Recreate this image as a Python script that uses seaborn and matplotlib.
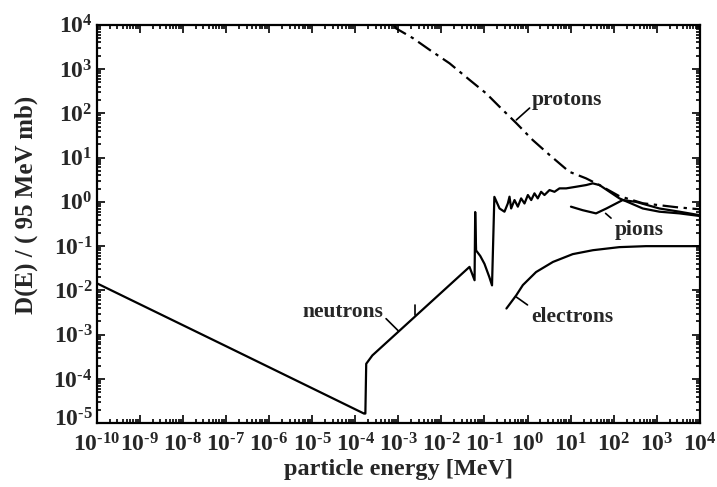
import numpy as np
import pandas as pd
import seaborn as sns
from matplotlib import pyplot as plt
from matplotlib import ticker
from matplotlib.transforms import ScaledTranslation

# values (energy in MeV, D(E) in 95 MeV mb)
neutron_E = [1e-10, 1e-7, 1.6e-4, 1.72e-4, 1.8e-4, 2.5e-4, 0.045, 0.059, 0.061, 0.064,
             0.08, 0.1, 0.13, 0.15, 0.17, 0.224, 0.292, 0.349, 0.382, 0.417, 0.499,
             0.596, 0.711, 0.851, 1.02, 1.22, 1.45, 1.73, 2.07, 2.48, 3.24, 4.23,
             5.52, 7.89, 13.5, 23.0, 32.7, 46.9, 136, 474, 1160, 3370, 1e4]
neutron_D = [0.0145, 5.5e-4, 1.65e-5, 1.65e-5, 2.2e-4, 3.4e-4, 0.034, 0.017, 0.59, 0.08,
             0.06, 0.04, 0.02, 0.013, 1.3, 0.71, 0.60, 0.92, 1.31, 0.71, 1.10,
             0.78, 1.20, 0.92, 1.43, 1.10, 1.56, 1.20, 1.69, 1.43, 1.85, 1.69,
             2.02, 2.02, 2.20, 2.40, 2.62, 2.40, 1.20, 0.71, 0.60, 0.55, 0.48]

proton_E = [7.9e-4, 8.9e-4, 2.19e-3, 5.4e-3, 0.0155, 0.0447, 0.110, 0.224, 0.55,
            1.32, 3.24, 9.3, 22.9, 46.8, 135, 479, 2820, 1e4]
proton_D = [1e4, 8300, 5000, 2700, 1350, 575, 282, 141, 60,
            25, 11.5, 4.8, 3.4, 2.4, 1.35, 0.93, 0.76, 0.68]

pion_E = [10.2, 19, 39, 68, 162, 331, 1150, 3390, 1e4]
pion_D = [0.78, 0.65, 0.55, 0.71, 1.10, 1.0, 0.71, 0.60, 0.50]

electron_E = [0.324, 0.55, 0.78, 1.58, 3.9, 11.2, 33, 135, 562, 1e4]
electron_D = [0.0039, 0.0078, 0.0132, 0.026, 0.044, 0.066, 0.081, 0.095, 0.1, 0.1]

x_decades = list(range(-10, 5))
y_decades = list(range(-5, 5))

frames = []
for name, e, d in [("neutrons", neutron_E, neutron_D), ("protons", proton_E, proton_D),
                   ("pions", pion_E, pion_D), ("electrons", electron_E, electron_D)]:
    frames.append(pd.DataFrame({"energy": e, "D": d, "particle": name}))
df = pd.concat(frames, ignore_index=True)

sns.set_theme(style="ticks")
plt.rcParams["font.family"] = ["Liberation Serif", "DejaVu Serif"]
plt.rcParams["font.weight"] = "bold"
plt.rcParams["mathtext.fontset"] = "custom"
plt.rcParams["mathtext.rm"] = "Liberation Serif:bold"
plt.rcParams["mathtext.it"] = "Liberation Serif:bold"
plt.rcParams["mathtext.bf"] = "Liberation Serif:bold"

fig = plt.figure(figsize=(7.17, 4.87), dpi=100)
ax = fig.add_axes([0.135, 0.131, 0.841, 0.818])

sns.lineplot(data=df, x="energy", y="D", hue="particle", style="particle",
             palette={"neutrons": "black", "protons": "black", "pions": "black", "electrons": "black"},
             dashes={"neutrons": "", "protons": (7, 2.5, 1.5, 2.5), "pions": "", "electrons": ""},
             sort=False, estimator=None, linewidth=1.6, legend=False, ax=ax)

ax.set_xscale("log")
ax.set_yscale("log")
ax.set_xlim(1e-10, 1e4)
ax.set_ylim(1e-5, 1e4)


def pow10(v, pos):
    k = round(np.log10(v))
    if k < 0:
        return r"$10^{\text{-}%d}$" % (-k)
    return r"$10^{%d}$" % k


ax.set_xticks([10.0 ** k for k in x_decades])
ax.set_yticks([10.0 ** k for k in y_decades])
ax.xaxis.set_major_formatter(ticker.FuncFormatter(pow10))
ax.yaxis.set_major_formatter(ticker.FuncFormatter(pow10))
ax.xaxis.set_minor_locator(ticker.LogLocator(base=10, subs=range(2, 10), numticks=200))
ax.yaxis.set_minor_locator(ticker.LogLocator(base=10, subs=range(2, 10), numticks=200))
ax.xaxis.set_minor_formatter(ticker.NullFormatter())
ax.yaxis.set_minor_formatter(ticker.NullFormatter())
ax.tick_params(which="both", direction="in", top=True, right=True, width=1.2, color="black")
ax.tick_params(which="major", length=6, labelsize=17, pad=3)
ax.tick_params(axis="x", which="major", pad=7)
ax.tick_params(which="minor", length=3)
for s in ax.spines.values():
    s.set_linewidth(1.6)
    s.set_color("black")

# lowest y label sits a touch higher so it clears the first x label
low = ax.yaxis.get_major_ticks()[0].label1
low.set_transform(low.get_transform() + ScaledTranslation(0, 4 / 72, fig.dpi_scale_trans))

ax.set_xlabel("particle energy [MeV]", fontsize=17.5, fontweight="bold", labelpad=2)
ax.set_ylabel("D(E) / ( 95 MeV mb)", fontsize=18, fontweight="bold")
ax.yaxis.set_label_coords(-0.098, 0.548)

# labels with short leader lines
ax.plot([5.2e-4, 1.02e-3], [2.3e-3, 1.2e-3], color="black", lw=1.2)
ax.text(4.4e-4, 3.2e-3, "neutrons", ha="right", va="center", fontsize=15.5, fontweight="bold")
ax.plot([2.4e-3, 2.4e-3], [4.7e-3, 2.75e-3], color="black", lw=1.2)
ax.plot([0.55, 1.12], [71, 132], color="black", lw=1.2)
ax.text(1.22, 200, "protons", ha="left", va="center", fontsize=15.5, fontweight="bold")
ax.plot([65, 87], [0.55, 0.43], color="black", lw=1.2)
ax.text(105, 0.23, "pions", ha="left", va="center", fontsize=15.5, fontweight="bold")
ax.plot([0.55, 1.0], [0.0071, 0.0047], color="black", lw=1.2)
ax.text(1.22, 0.0025, "electrons", ha="left", va="center", fontsize=15.5, fontweight="bold")

fig.savefig("out.png", dpi=100)
